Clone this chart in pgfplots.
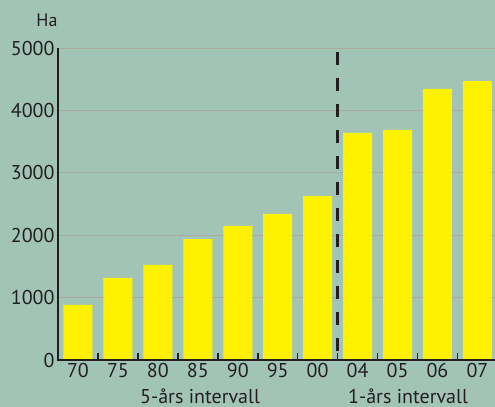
\documentclass[border=0pt]{standalone}
\usepackage{fontspec}
\setmainfont{PT Sans}
\usepackage{pgfplots}
\pgfplotsset{compat=1.18}
\definecolor{bg}{HTML}{A2C4B6}
\definecolor{baryellow}{HTML}{FFF200}
\definecolor{gridc}{HTML}{ABAA9E}
\definecolor{txt}{HTML}{231F20}
\begin{document}
\begin{tikzpicture}
\fill[bg] (-58bp,-47bp) rectangle (437bp,360bp);
\begin{axis}[
  at={(0,0)}, anchor=south west,
  scale only axis, width=437bp, height=312bp,
  xmin=-0.5, xmax=10.44, ymin=0, ymax=5000,
  axis line style={draw=none},
  ytick={0,1000,2000,3000,4000,5000},
  ymajorgrids, grid style={gridc, line width=1bp},
  ytick style={draw=none},
  ytick pos=left,
  scaled y ticks=false,
  yticklabel style={/pgf/number format/1000 sep={}, /pgf/number format/assume math mode=true, font=\fontsize{20bp}{24bp}\selectfont, text=txt},
  xtick={0.5,1.5,...,9.5},
  xticklabels={},
  xtick pos=lower,
  xtick style={line width=1.6bp, txt},
  major tick length=7bp,
  tick align=inside,
  extra x ticks={0,1,2,3,4,5,6,7,8,9,10},
  extra x tick labels={70,75,80,85,90,95,00,04,05,06,07},
  extra x tick style={major tick length=0pt, tick style={draw=none}, xticklabel style={font=\fontsize{20bp}{24bp}\selectfont, text=txt}},
  clip=false,
]
\addplot[ybar, bar width=29bp, fill=baryellow, draw=none] coordinates {
  (0,885) (1,1316) (2,1524) (3,1939) (4,2150) (5,2340) (6,2626)
  (7,3638) (8,3686) (9,4343) (10,4471)
};
\addplot[txt, line width=2.5bp, dash pattern=on 13bp off 13bp] coordinates {(6.5,4940) (6.5,0)};
\draw[line width=1.6bp, txt] (rel axis cs:0,1) -- (rel axis cs:0,0) -- (rel axis cs:1,0);
\end{axis}
\node[text=txt, font=\fontsize{18bp}{22bp}\selectfont] at (-11bp,340bp) {Ha};
\node[anchor=base, text=txt, font=\fontsize{20bp}{24bp}\selectfont] at (142bp,-43bp) {5-års intervall};
\node[anchor=base, text=txt, font=\fontsize{20bp}{24bp}\selectfont] at (350bp,-43bp) {1-års intervall};
\pgfresetboundingbox
\useasboundingbox (-58bp,-47bp) rectangle (437bp,360bp);
\end{tikzpicture}
\end{document}
